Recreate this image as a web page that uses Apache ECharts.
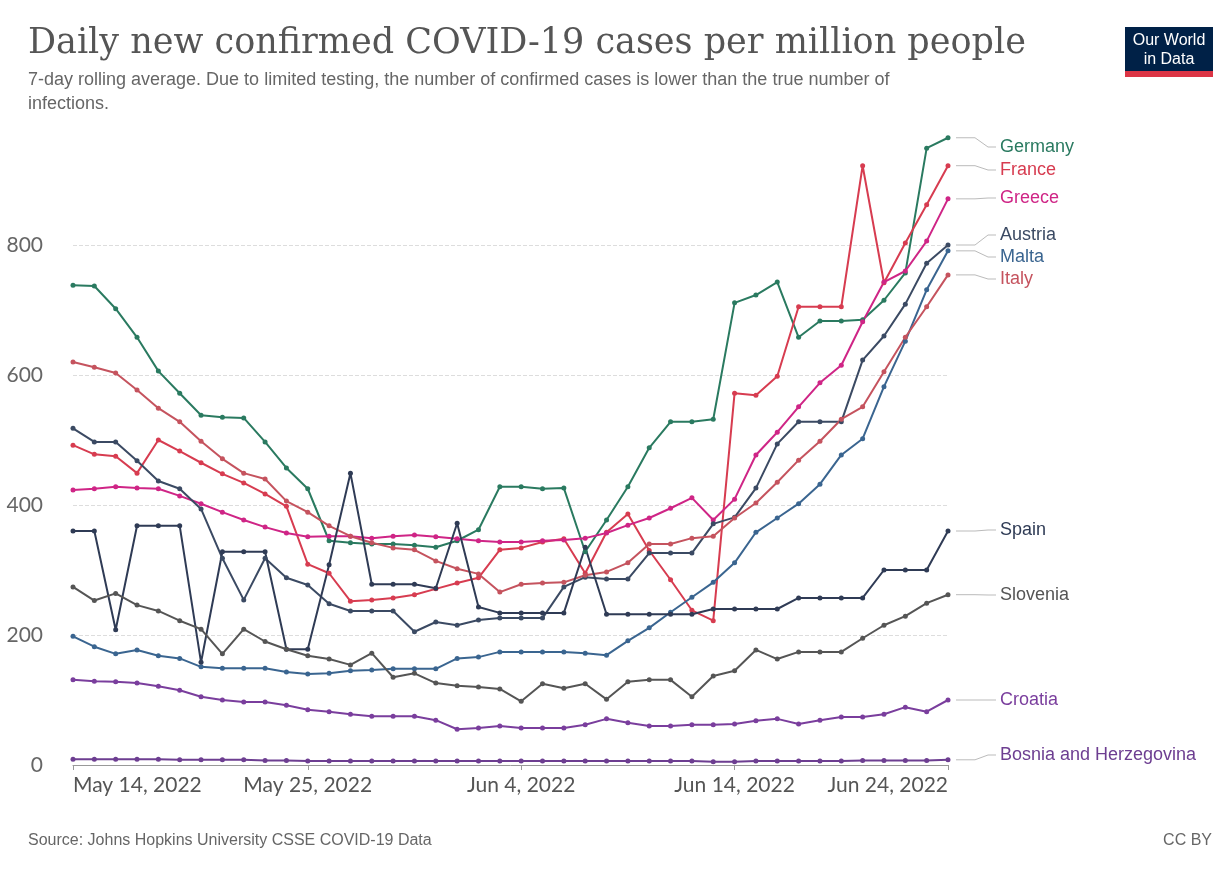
<!DOCTYPE html>
<html>
<head>
<meta charset="utf-8">
<script src="https://cdn.jsdelivr.net/npm/echarts@6/dist/echarts.min.js"></script>
<style>
  body { margin: 0; background: #fff; }
  #chart { width: 1232px; height: 880px; }
</style>
</head>
<body>
<div id="chart"></div>
<script>
// dates May 14 .. Jun 24, 2022
var dates = [];
(function () {
    var d = new Date(2022, 4, 14);
    for (var i = 0; i < 42; i++) {
        var m = d.getMonth() == 4 ? 'May' : 'Jun';
        dates.push(m + ' ' + d.getDate() + ', 2022');
        d.setDate(d.getDate() + 1);
    }
})();
var labelIdx = [0, 11, 21, 31, 41];
var yTicks = [0, 200, 400, 600, 800];

var germany = [738,737,702,658,606,572,538,535,534,497,457,425,345,342,340,340,338,335,345,362,428,428,425,426,328,377,428,488,528,528,532,711,723,743,658,683,683,685,715,757,949,965];
var france = [492,478,475,449,500,483,465,448,434,417,398,309,295,252,254,257,262,271,280,288,331,334,343,348,295,358,386,330,285,238,222,572,569,598,705,705,705,922,742,803,862,922];
var greece = [423,425,428,426,425,414,402,389,377,366,357,351,352,352,349,352,354,351,348,345,343,343,345,346,349,357,369,380,395,411,377,409,477,512,551,588,615,682,743,760,806,871];
var austria = [518,497,497,468,437,425,394,318,254,318,288,277,248,237,237,237,205,220,215,223,226,226,226,274,289,286,286,326,326,326,371,381,426,494,528,528,528,623,660,709,772,800];
var malta = [198,182,171,177,168,164,151,149,149,149,143,140,141,145,146,148,148,148,164,166,174,174,174,174,172,169,191,211,235,258,281,311,358,380,402,432,477,502,582,652,731,791];
var italy = [620,612,603,577,549,528,498,471,449,440,406,389,368,352,342,334,331,314,302,294,266,278,280,281,292,297,311,340,340,349,352,380,403,435,469,498,532,551,605,658,705,754];
var spain = [360,360,208,368,368,368,158,328,328,328,178,178,308,449,278,278,278,272,372,243,234,234,234,234,335,232,232,232,232,232,240,240,240,240,257,257,257,257,300,300,300,360];
var slovenia = [274,253,264,246,237,222,209,171,209,190,178,168,163,154,172,135,141,126,122,120,117,98,125,118,125,101,128,131,131,105,137,145,177,163,174,174,174,195,215,229,249,262];
var croatia = [131,129,128,126,121,115,105,100,97,97,92,85,82,78,75,75,75,69,55,57,60,57,57,57,62,71,65,60,60,62,62,63,68,71,63,69,74,74,78,89,82,100];
var bosnia = [9,9,9,9,9,8,8,8,8,7,7,6,6,6,6,6,6,6,6,6,6,6,6,6,6,6,6,6,6,6,5,5,6,6,6,6,6,7,7,7,7,8];

var seriesDefs = [
    { name: 'Germany', data: germany, color: '#2a7a60', labelY: 147 },
    { name: 'France', data: france, color: '#d73c50', labelY: 170 },
    { name: 'Greece', data: greece, color: '#cf2586', labelY: 198 },
    { name: 'Austria', data: austria, color: '#3b4a63', labelY: 235 },
    { name: 'Malta', data: malta, color: '#3a6590', labelY: 257 },
    { name: 'Italy', data: italy, color: '#c5535e', labelY: 279 },
    { name: 'Spain', data: spain, color: '#2f3b55', labelY: 530 },
    { name: 'Slovenia', data: slovenia, color: '#555555', labelY: 595 },
    { name: 'Croatia', data: croatia, color: '#7a3e9d', labelY: 700 },
    { name: 'Bosnia and Herzegovina', data: bosnia, color: '#6d3e91', labelY: 755 }
];

var myChart = echarts.init(document.getElementById('chart'));
var option = {
    animation: false,
    backgroundColor: '#fff',
    textStyle: { fontFamily: 'Lato, Arial, sans-serif' },
    grid: { left: 73, right: 284, top: 115, bottom: 115 },
    xAxis: {
        type: 'category',
        data: dates,
        boundaryGap: false,
        axisLine: { lineStyle: { color: '#999' } },
        axisTick: {
            alignWithLabel: true,
            interval: function (i) { return labelIdx.indexOf(i) >= 0; },
            length: 5,
            lineStyle: { color: '#999' }
        },
        axisLabel: {
            interval: function (i) { return labelIdx.indexOf(i) >= 0; },
            color: '#555', fontSize: 21, margin: 10,
            alignMinLabel: 'left', alignMaxLabel: 'right'
        }
    },
    yAxis: {
        type: 'value', min: 0, max: 1000, interval: 200,
        axisLine: { show: false }, axisTick: { show: false },
        axisLabel: {
            color: '#666', fontSize: 21, margin: 30,
            formatter: function (v) { return yTicks.indexOf(v) >= 0 ? v : ''; }
        },
        splitLine: { lineStyle: { type: 'dashed', color: ['transparent', '#ddd', '#ddd', '#ddd', '#ddd', 'transparent'] } }
    },
    series: seriesDefs.map(function (s) {
        return {
            name: s.name, type: 'line', data: s.data,
            symbol: 'circle', symbolSize: 5,
            lineStyle: { width: 2, color: s.color },
            itemStyle: { color: s.color }
        };
    }),
    graphic: [
        { type: 'text', left: 28, top: 26, style: { text: 'Daily new confirmed COVID-19 cases per million people', font: '35px "DejaVu Serif", "Liberation Serif", serif', fill: '#555' } },
        { type: 'text', left: 28, top: 68, style: { text: '7-day rolling average. Due to limited testing, the number of confirmed cases is lower than the true number of\ninfections.', font: '18px "Liberation Sans", Arial, sans-serif', fill: '#666', lineHeight: 24 } },
        { type: 'text', left: 28, top: 833, style: { text: 'Source: Johns Hopkins University CSSE COVID-19 Data', font: '16px "Liberation Sans", Arial, sans-serif', fill: '#666' } },
        { type: 'text', right: 20, top: 833, style: { text: 'CC BY', font: '16px "Liberation Sans", Arial, sans-serif', fill: '#666' } },
        { type: 'rect', shape: { x: 1125, y: 27, width: 88, height: 44 }, style: { fill: '#002147' } },
        { type: 'rect', shape: { x: 1125, y: 71, width: 88, height: 6 }, style: { fill: '#dc3545' } },
        { type: 'text', x: 1169, y: 31, style: { text: 'Our World\nin Data', font: '16px "Liberation Sans", Arial, sans-serif', fill: '#fff', align: 'center', lineHeight: 19 } }
    ]
};
myChart.setOption(option);

// end labels with connectors
var extra = [];
seriesDefs.forEach(function (s) {
    var last = s.data.length - 1;
    var p = myChart.convertToPixel({ gridIndex: 0 }, [last, s.data[last]]);
    extra.push({ type: 'polyline', shape: { points: [[p[0] + 8, p[1]], [975, p[1]], [988, s.labelY], [996, s.labelY]] }, style: { stroke: '#bbb', lineWidth: 1, fill: null } });
    extra.push({ type: 'text', x: 1000, y: s.labelY, style: { text: s.name, font: '18px "Liberation Sans", Arial, sans-serif', fill: s.color, verticalAlign: 'middle' } });
});
myChart.setOption({ graphic: option.graphic.concat(extra) });
</script>
</body>
</html>
